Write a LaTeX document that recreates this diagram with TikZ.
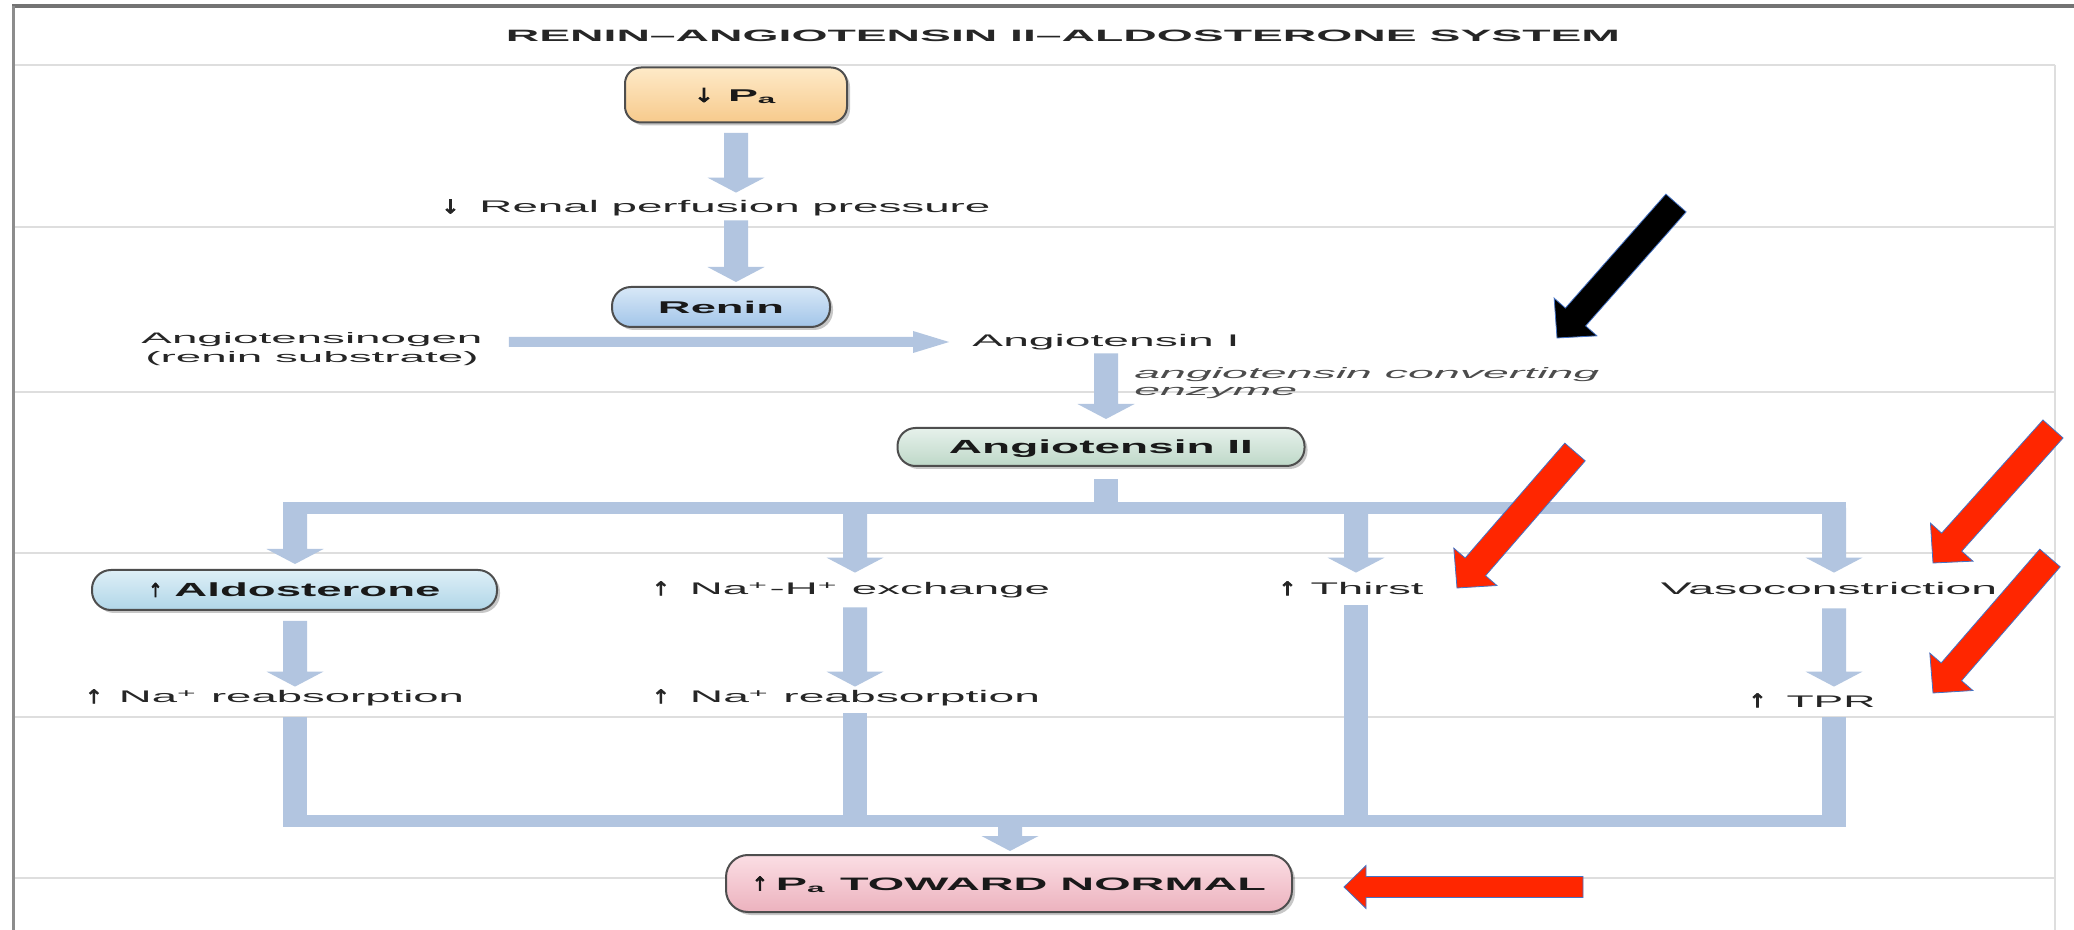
\documentclass[tikz,border=0pt]{standalone}
\usepackage{graphicx}
\usepackage{fontspec}
\setmainfont{Liberation Sans}
\newfontfamily\arwfont{DejaVu Sans}[FakeBold=3.5]
\usetikzlibrary{calc,shadows}

\definecolor{flowc}{RGB}{178,197,224}
\definecolor{redarr}{RGB}{255,38,0}
\definecolor{edgeblue}{RGB}{68,114,196}
\definecolor{gridc}{RGB}{222,222,222}
\definecolor{boxedge}{RGB}{78,78,78}
\definecolor{paT}{RGB}{254,234,200}
\definecolor{paB}{RGB}{247,202,140}
\definecolor{reninT}{RGB}{216,232,247}
\definecolor{reninB}{RGB}{162,197,233}
\definecolor{angT}{RGB}{230,241,235}
\definecolor{angB}{RGB}{190,216,200}
\definecolor{aldoT}{RGB}{222,239,247}
\definecolor{aldoB}{RGB}{176,214,232}
\definecolor{finT}{RGB}{251,222,228}
\definecolor{finB}{RGB}{236,178,190}

\newcommand\stx[2]{\resizebox{#1}{\height}{#2}}
% arrow glyph (up/down) of given width and total height
\newcommand\arr[2]{\raisebox{-0.2pt}{\resizebox*{#1}{7pt}{\fontsize{9.5pt}{10pt}\mdseries\arwfont #2}}}

% vertical block connector: x from #1, shaft from y of #1 to tip at y of #2
\newcommand\vflow[2]{%
  \path[flow] let \p1=#1, \p2=#2 in
    (\x1-6pt,\y1) -- (\x1-6pt,\y2+7.5pt) -- (\x1-14.25pt,\y2+7.5pt) -- (\x1,\y2)
    -- (\x1+14.25pt,\y2+7.5pt) -- (\x1+6pt,\y2+7.5pt) -- (\x1+6pt,\y1) -- cycle;}
% horizontal block connector
\newcommand\hflow[2]{%
  \path[flow] let \p1=#1, \p2=#2 in
    (\x1,\y1-2.5pt) -- (\x2-18pt,\y1-2.5pt) -- (\x2-18pt,\y1-5.5pt) -- (\x2,\y1)
    -- (\x2-18pt,\y1+5.5pt) -- (\x2-18pt,\y1+2.5pt) -- (\x1,\y1+2.5pt) -- cycle;}
% annotation block arrow: tail (#1,#2), tip (#3,#4), style #5, half shaft #6, half head #7, head length #8
\newcommand\blockarrow[8]{%
  \pgfmathsetmacro\baang{atan2(-(#4-#2),#3-#1)}%
  \pgfmathsetmacro\balen{veclen(#3-#1,#4-#2)}%
  \begin{scope}[shift={(#1,#2)},rotate=\baang]
    \path[#5] (0,-#6) -- (\balen-#8,-#6) -- (\balen-#8,-#7) -- (\balen,0)
      -- (\balen-#8,#7) -- (\balen-#8,#6) -- (0,#6) -- cycle;
  \end{scope}}

\tikzset{
  lbl/.style={inner sep=0pt, text=black!85, text height=6.5pt, text depth=1.5pt,
    font=\fontsize{8.4pt}{9.5pt}\selectfont},
  titlelbl/.style={lbl, font=\fontsize{8.2pt}{9pt}\selectfont\bfseries},
  multilbl/.style={inner sep=0pt, text=black!85, font=\fontsize{7.6pt}{9.5pt}\selectfont},
  itallbl/.style={inner sep=0pt, text=black!70, font=\fontsize{7.6pt}{8.5pt}\selectfont\itshape},
  boxbase/.style={draw=boxedge, line width=1pt, inner sep=0pt, text=black!90,
    text height=6.6pt, text depth=0pt, font=\fontsize{9pt}{10pt}\selectfont\bfseries,
    drop shadow={shadow xshift=1.5pt, shadow yshift=-1.5pt, fill=black, opacity=0.22}},
  pabox/.style={boxbase, minimum width=111pt, minimum height=27.5pt, rounded corners=8pt,
    top color=paT, bottom color=paB, font=\fontsize{8.5pt}{10pt}\selectfont\bfseries},
  reninbox/.style={boxbase, minimum width=109pt, minimum height=20pt, rounded corners=9.5pt,
    top color=reninT, bottom color=reninB, font=\fontsize{8.5pt}{10pt}\selectfont\bfseries},
  angbox/.style={boxbase, minimum width=203.5pt, minimum height=19pt, rounded corners=9pt,
    top color=angT, bottom color=angB, font=\fontsize{9.5pt}{10pt}\selectfont\bfseries},
  aldobox/.style={boxbase, minimum width=202.5pt, minimum height=20pt, rounded corners=9.5pt,
    top color=aldoT, bottom color=aldoB, font=\fontsize{9.5pt}{10pt}\selectfont\bfseries},
  finbox/.style={boxbase, minimum width=283pt, minimum height=28.5pt, rounded corners=11pt,
    top color=finT, bottom color=finB, font=\fontsize{9pt}{10pt}\selectfont\bfseries},
  flow/.style={fill=flowc},
  redarrow/.style={fill=redarr, draw=edgeblue, line width=0.4pt},
  blackarrow/.style={fill=black, draw=edgeblue, line width=0.4pt},
  gridline/.style={draw=gridc, line width=1pt},
}

\begin{document}
\begin{tikzpicture}[x=0.5pt,y=-0.5pt]
\useasboundingbox (0,0) rectangle (2074,930);
\fill[white] (0,0) rectangle (2074,930);

% frame and band lines
\foreach \yy in {65,227,392,553,717,878} {\draw[gridline] (14,\yy) -- (2055,\yy);}
\draw[gridline] (2055,65) -- (2055,930);
\draw[black!55, line width=2pt] (12,6) -- (2074,6);
\draw[black!45, line width=1.5pt] (13,6) -- (13,930);

% nodes
\node[titlelbl] (title) at (1063,37) {\stx{557pt}{RENIN–ANGIOTENSIN II–ALDOSTERONE SYSTEM}};
\node[pabox] (pa) at (736,95) {\arr{10pt}{↓}\hspace{7pt}\stx{25pt}{P\textsubscript{a}}};
\node[lbl] (renal) at (716,208) {\arr{9pt}{↓}\hspace{10pt}\stx{255.5pt}{Renal perfusion pressure}};
\node[reninbox] (renin) at (721,307) {\stx{63pt}{Renin}};
\node[multilbl] (agen) at (312,349.5) {\stx{170.5pt}{\begin{tabular}{@{}c@{}}Angiotensinogen\\(renin substrate)\end{tabular}}};
\node[lbl] (ang1) at (1106,342) {\stx{133.5pt}{Angiotensin I}};
\node[itallbl, anchor=north west] (ace) at (1134,366) {\stx{232.5pt}{\begin{tabular}{@{}l@{}}angiotensin converting\\enzyme\end{tabular}}};
\node[angbox] (ang2) at (1101,447) {\stx{152pt}{Angiotensin II}};
\node[aldobox] (aldo) at (294.5,590) {\arr{7pt}{↑}\hspace{6pt}\stx{133pt}{Aldosterone}\hspace{14.5pt}};
\node[lbl] (nah) at (851,590) {\arr{9pt}{↑}\hspace{10pt}\stx{180pt}{Na\textsuperscript{+}-H\textsuperscript{+} exchange}};
\node[lbl] (thirst) at (1351,590) {\arr{9pt}{↑}\hspace{7pt}\stx{56.5pt}{Thirst}};
\node[lbl] (vaso) at (1829,590) {\stx{168pt}{Vasoconstriction}};
\node[lbl] (na1) at (274.5,698) {\arr{9pt}{↑}\hspace{8pt}\stx{172.5pt}{Na\textsuperscript{+} reabsorption}};
\node[lbl] (na2) at (846,698) {\arr{9pt}{↑}\hspace{10pt}\stx{175pt}{Na\textsuperscript{+} reabsorption}};
\node[lbl] (tpr) at (1812,702) {\arr{9pt}{↑}\hspace{10pt}\stx{44.5pt}{TPR}};
\node[finbox] (final) at (1009,883.5) {\arr{8pt}{↑}\hspace{4pt}\stx{245pt}{P\textsubscript{a} TOWARD NORMAL}};

% junction coordinates
\coordinate (hub) at (1106,508);
\coordinate (bA) at (295,508);
\coordinate (bB) at (855,508);
\coordinate (bC) at (1356,508);
\coordinate (bD) at (1834,508);
\coordinate (cA) at (295,821);
\coordinate (cB) at (855,821);
\coordinate (cC) at (1356,821);
\coordinate (cD) at (1834,821);
\coordinate (sink) at (1010,821);

% flow connectors
\vflow{($(pa.south)+(0,9.5)$)}{($(pa.south |- renal.north)+(0,-7)$)}
\vflow{($(pa.south |- renal.south)+(0,4)$)}{($(pa.south |- renin.north)+(0,-4)$)}
\hflow{($(agen.east |- ang1.west)+(26,0)$)}{($(ang1.west)+(-23,0)$)}
\vflow{($(ang1.south)+(0,3)$)}{($(ang1.south |- ang2.north)+(0,-8)$)}

\fill[flow] ($(ang2.south -| hub)+(-12,12)$) rectangle ($(hub)+(12,0)$);
\fill[flow] ($(bA)+(-12,-6)$) rectangle ($(bD)+(12,6)$);
\vflow{(bA)}{($(bA |- aldo.north)+(0,-5)$)}
\vflow{(bB)}{($(bB |- nah.north)+(0,-9)$)}
\vflow{(bC)}{($(bC |- thirst.north)+(0,-9)$)}
\vflow{(bD)}{($(bD |- vaso.north)+(0,-9)$)}

\vflow{($(bA |- aldo.south)+(0,10)$)}{($(bA |- na1.north)+(0,-3)$)}
\vflow{($(bB |- nah.south)+(0,9)$)}{($(bB |- na2.north)+(0,-3)$)}
\vflow{($(bD |- vaso.south)+(0,10)$)}{($(bD |- tpr.north)+(0,-7)$)}

\fill[flow] ($(bA |- na1.south)+(-12,11)$) rectangle ($(cA)+(12,0)$);
\fill[flow] ($(bB |- na2.south)+(-12,7)$) rectangle ($(cB)+(12,0)$);
\fill[flow] ($(bC |- thirst.south)+(-12,7)$) rectangle ($(cC)+(12,0)$);
\fill[flow] ($(bD |- tpr.south)+(-12,7)$) rectangle ($(cD)+(12,0)$);
\fill[flow] ($(cA)+(-12,-6)$) rectangle ($(cD)+(12,6)$);
\vflow{(sink)}{($(sink |- final.north)+(0,-3)$)}

% annotation arrows
\blockarrow{1676}{203}{1557}{338}{blackarrow}{13.5}{28.5}{28}
\blockarrow{1575}{452}{1457}{588}{redarrow}{13.5}{28.5}{28}
\blockarrow{2053}{429}{1933}{563}{redarrow}{13.5}{28.5}{28}
\blockarrow{2050}{558}{1933}{693}{redarrow}{13.5}{28.5}{28}
\blockarrow{1583}{887}{1344}{887}{redarrow}{10.5}{21.5}{22}
\end{tikzpicture}
\end{document}
